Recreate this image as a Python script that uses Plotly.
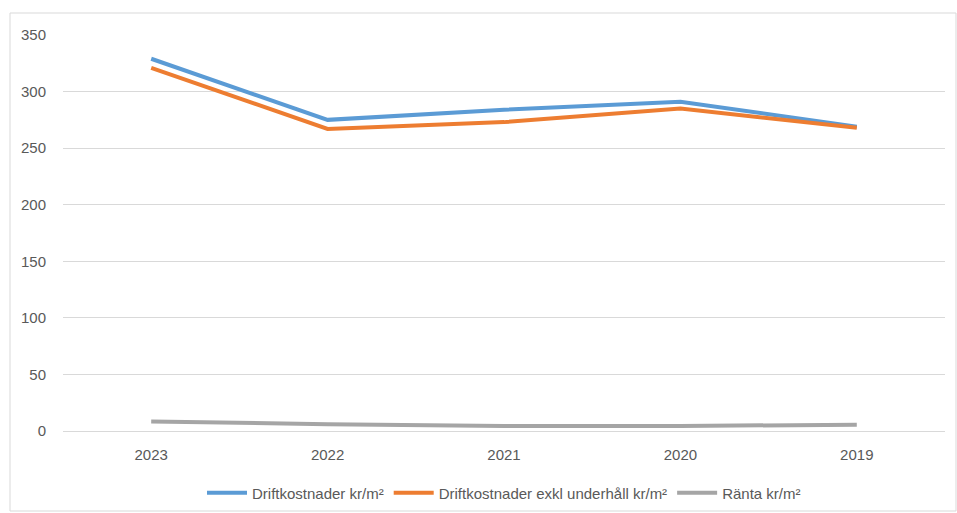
import plotly.graph_objects as go

years = ["2023", "2022", "2021", "2020", "2019"]
drift = [329, 275, 284, 291, 269]
drift_exkl = [321, 267, 273, 285, 268]
ranta = [8.5, 6, 4.5, 4.5, 5.5]

names = ["Driftkostnader kr/m²", "Driftkostnader exkl underhåll kr/m²", "Ränta kr/m²"]
colors = ["#5B9BD5", "#ED7D31", "#A5A5A5"]

fig = go.Figure()
for n, vals, c in zip(names, [drift, drift_exkl, ranta], colors):
    fig.add_trace(go.Scatter(x=years, y=vals, mode="lines", name=n,
                             line=dict(color=c, width=4)))

W, H = 957, 513
L, R, T, B = 63, 12, 35, 82
pw, ph = W - L - R, H - T - B

def px(x):
    return (x - L) / pw

def py(y):
    return (H - B - y) / ph

fig.add_shape(type="rect", xref="paper", yref="paper",
              x0=px(10), x1=px(956), y0=py(511), y1=py(13),
              line=dict(color="#D9D9D9", width=1), fillcolor="rgba(0,0,0,0)", layer="below")

fig.update_layout(
    width=W, height=H,
    margin=dict(l=L, r=R, t=T, b=B, autoexpand=False),
    paper_bgcolor="white", plot_bgcolor="white",
    font=dict(family="Liberation Sans, Arial, sans-serif", size=15, color="#595959"),
    xaxis=dict(type="category", showgrid=False, showline=True, linecolor="#D9D9D9",
               ticks="", tickfont=dict(size=15, color="#595959"), range=[-0.5, 4.5],
               ticklabelstandoff=10),
    yaxis=dict(range=[0, 350], dtick=50, showgrid=True, gridcolor="#D9D9D9", gridwidth=1,
               zeroline=False, showline=False, ticks="", tickfont=dict(size=15, color="#595959"),
               ticklabelstandoff=16),
    legend=dict(orientation="h", x=0.5, xanchor="center", y=py(493), yanchor="middle",
                font=dict(size=15, color="#595959"), itemwidth=40),
    showlegend=True,
)

fig.write_html("out.html")
